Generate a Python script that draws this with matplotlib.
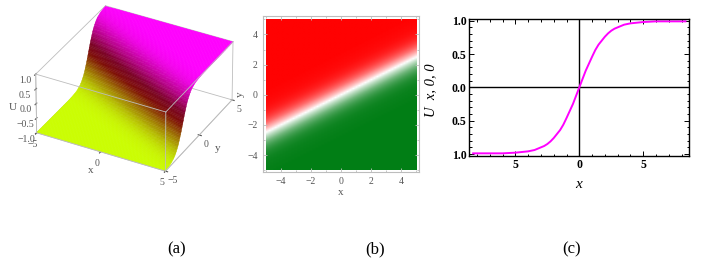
import numpy as np
import matplotlib
matplotlib.use("Agg")
import matplotlib.pyplot as plt
from matplotlib.colors import LinearSegmentedColormap
from matplotlib.ticker import FixedLocator, FixedFormatter, MultipleLocator

plt.rcParams["font.family"] = ["Liberation Serif", "DejaVu Serif"]

# profile U(x, 0, 0)
x_prof = [-8.3, -7, -6, -5, -4.5, -4, -3.5, -3, -2.75, -2.5, -2.25, -2, -1.75,
          -1.5, -1.25, -1, -0.5, 0, 0.5, 1, 1.25, 1.5, 1.75, 2, 2.25, 2.5,
          2.75, 3, 3.5, 4, 4.5, 5, 6, 7, 8.3]
u_prof = [-0.99, -0.99, -0.99, -0.98, -0.97, -0.96, -0.94, -0.90, -0.88,
          -0.85, -0.81, -0.76, -0.70, -0.64, -0.56, -0.46, -0.25, 0.0, 0.25,
          0.46, 0.56, 0.64, 0.70, 0.76, 0.81, 0.85, 0.88, 0.90, 0.94, 0.96,
          0.97, 0.98, 0.99, 0.99, 0.99]

# kink direction: U(x, y) = profile(ax*x + ay*y)
dir_a = (1.0, 2.0)    # panel (a)
dir_b = (1.0, -2.0)   # panel (b)
domain = (-5, 5)

ticks_a = [-5, 0, 5]
zticks_a = [-1.0, -0.5, 0.0, 0.5, 1.0]
ticks_b = [-4, -2, 0, 2, 4]
xticks_c = [-5, 0, 5]
xlabels_c = ["5", "0", "5"]
yticks_c = [-1.0, -0.5, 0.0, 0.5, 1.0]
ylabels_c = ["1.0", "0.5", "0.0", "0.5", "1.0"]
captions = ["(a)", "(b)", "(c)"]

cmap_a = LinearSegmentedColormap.from_list(
    "kink_a", [(0.0, "#ccff00"), (0.25, "#a07a00"), (0.45, "#7d0c04"),
               (0.6, "#7a0024"), (1.0, "#ff00ff")])
cmap_b = LinearSegmentedColormap.from_list(
    "kink_b", [(0.0, "#ff0000"), (0.5, "#ffffff"), (1.0, "#007d14")])

GRAY = "#bdbdbd"
TXT = "#555555"

fig = plt.figure(figsize=(7.08, 2.66), dpi=100)

# ── (a) 3D surface ──────────────────────────────────────────────────────────
g = np.linspace(domain[0], domain[1], 101)
X, Y = np.meshgrid(g, g)
U_a = np.interp(dir_a[0] * X + dir_a[1] * Y, x_prof, u_prof)

ax_a = fig.add_axes([-0.014, 0.2, 0.4, 0.92], projection="3d",
                    computed_zorder=False)
ax_a.set_proj_type("persp", focal_length=3)
ax_a.set_box_aspect((1, 1, 0.48), zoom=0.86)
ax_a.view_init(elev=33, azim=-62)

lo, hi = domain
back = [((lo, lo), (lo, hi), (1, 1)), ((lo, hi), (hi, hi), (1, 1)),
        ((lo, lo), (hi, hi), (-1, 1)), ((hi, hi), (hi, hi), (-1, 1)),
        ((lo, hi), (hi, hi), (-1, -1)), ((lo, lo), (lo, hi), (-1, -1))]
for ex, ey, ez in back:
    ax_a.plot(ex, ey, ez, color=GRAY, lw=0.6, zorder=0)

# facecolors also become the edge colours, which hides the seams
ax_a.plot_surface(X, Y, U_a, facecolors=cmap_a((U_a + 1) / 2), rstride=1,
                  cstride=1, linewidth=0.3, antialiased=True, shade=False,
                  zorder=1)

front = [((lo, hi), (lo, lo), (1, 1)), ((lo, lo), (lo, lo), (-1, 1)),
         ((hi, hi), (lo, lo), (-1, 1)), ((hi, hi), (lo, hi), (1, 1)),
         ((lo, hi), (lo, lo), (-1, -1)), ((hi, hi), (lo, hi), (-1, -1))]
for ex, ey, ez in front:
    ax_a.plot(ex, ey, ez, color=GRAY, lw=0.6, zorder=2)

ax_a.set_xlim(lo, hi)
ax_a.set_ylim(lo, hi)
ax_a.set_zlim(-1, 1)
ax_a.set_xticks(ticks_a)
ax_a.set_yticks(ticks_a)
ax_a.set_zticks(zticks_a)
ax_a.grid(False)
for axis in (ax_a.xaxis, ax_a.yaxis, ax_a.zaxis):
    axis.set_pane_color((1, 1, 1, 0))
    axis.line.set_color(GRAY)
    axis.line.set_linewidth(0.6)
    axis._axinfo["tick"]["color"] = GRAY
ax_a.zaxis.set_ticks_position("lower")
ax_a.zaxis.set_label_position("lower")
ax_a.tick_params(labelsize=7, colors=TXT, pad=-3)
ax_a.set_xlabel("x", fontsize=8, color=TXT, labelpad=-8)
ax_a.set_ylabel("y", fontsize=8, color=TXT, labelpad=-8)
ax_a.set_zlabel("U", fontsize=8, color=TXT, labelpad=-10)

# ── (b) density plot ────────────────────────────────────────────────────────
U_b = np.interp(dir_b[0] * X + dir_b[1] * Y, x_prof, u_prof)
ax_b = fig.add_axes([0.371, 0.3545, 0.221, 0.585])
ax_b.imshow(U_b, origin="lower", extent=(lo, hi, lo, hi), cmap=cmap_b,
            vmin=-1, vmax=1, interpolation="bilinear", aspect="auto")
ax_b.set_xlim(-5.2, 5.22)
ax_b.set_ylim(-5.1, 5.22)
ax_b.set_xticks(ticks_b)
ax_b.set_yticks(ticks_b)
ax_b.xaxis.set_minor_locator(MultipleLocator(1))
ax_b.yaxis.set_minor_locator(MultipleLocator(1))
ax_b.tick_params(which="both", direction="in", color=GRAY, labelcolor=TXT,
                 labelsize=7, width=0.6, top=True, right=True)
ax_b.tick_params(which="major", length=3)
ax_b.tick_params(which="minor", length=1.5)
for s in ax_b.spines.values():
    s.set_color(GRAY)
    s.set_linewidth(0.8)
ax_b.set_xlabel("x", fontsize=8, color=TXT, labelpad=2)
ax_b.set_ylabel("y", fontsize=8, color=TXT, labelpad=2)

# ── (c) profile along y = 0 ─────────────────────────────────────────────────
ax_c = fig.add_axes([0.6629, 0.4135, 0.3107, 0.514])
ax_c.axhline(0, color="black", lw=1.0)
ax_c.axvline(0, color="black", lw=1.0)
ax_c.plot(x_prof, u_prof, color="#ff00ff", lw=1.4)
ax_c.set_xlim(-8.6, 8.6)
ax_c.set_ylim(-1.03, 1.021)
ax_c.xaxis.set_major_locator(FixedLocator(xticks_c))
ax_c.xaxis.set_major_formatter(FixedFormatter(xlabels_c))
ax_c.yaxis.set_major_locator(FixedLocator(yticks_c))
ax_c.yaxis.set_major_formatter(FixedFormatter(ylabels_c))
ax_c.xaxis.set_minor_locator(MultipleLocator(1))
ax_c.yaxis.set_minor_locator(MultipleLocator(0.1))
ax_c.tick_params(which="both", direction="in", top=True, right=True,
                 width=0.7, labelsize=8.5, pad=2)
ax_c.tick_params(which="major", length=3.5)
ax_c.tick_params(which="minor", length=1.8)
for lab in ax_c.get_xticklabels() + ax_c.get_yticklabels():
    lab.set_fontweight("bold")
for s in ax_c.spines.values():
    s.set_linewidth(1.0)

fig.text(431 / 708, 1 - 90 / 266, "U  x, 0, 0", rotation=90, ha="center",
         va="center", fontsize=10.5, style="italic")
fig.text(579 / 708, 1 - 184 / 266, "x", ha="center", va="center",
         fontsize=11, style="italic")

for cx, cap in zip([177, 375, 572], captions):
    fig.text(cx / 708, 1 - 249 / 266, cap, ha="center", va="center",
             fontsize=12)

fig.savefig("out.png", dpi=100)
